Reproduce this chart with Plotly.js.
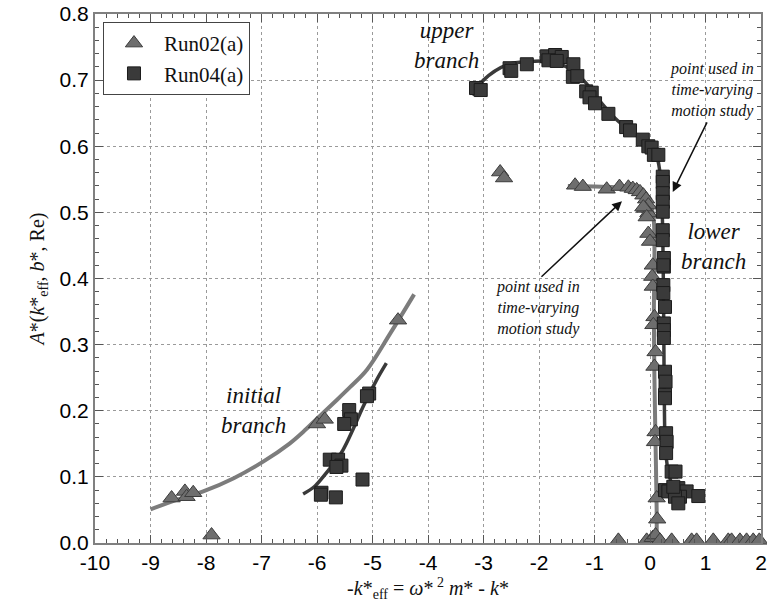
<!DOCTYPE html>
<html>
<head>
<meta charset="utf-8">
<script src="https://cdn.plot.ly/plotly-3.0.1.min.js"></script>
<style>html,body{margin:0;padding:0;background:#fff;}#chart{width:767px;height:615px;}</style>
</head>
<body>
<div id="chart"></div>
<script>
// ---- Run02(a) measured points (triangles) ----
var run02X = [-8.62,-8.38,-8.35,-8.23,-7.9,-6.0,-5.86,-4.54,-2.70,-2.63,
  -1.35,-1.21,-0.78,-0.55,-0.39,-0.31,-0.24,-0.18,-0.12,-0.07,-0.03,-0.09,-0.03,-0.12,-0.06,
  -0.03,0.0,0.05,0.04,0.05,0.08,0.06,0.10,0.08,0.10,0.09,0.12,0.13,
  -0.57,-0.06,0.05,0.10,0.18,0.39,0.75,0.84,1.14,1.41,1.47,1.62,1.74,1.86,1.97];
var run02Y = [0.068,0.078,0.070,0.076,0.012,0.180,0.187,0.337,0.561,0.552,
  0.541,0.539,0.535,0.539,0.538,0.536,0.534,0.531,0.526,0.520,0.511,0.506,0.499,0.508,0.493,
  0.468,0.456,0.420,0.403,0.388,0.342,0.330,0.289,0.267,0.168,0.153,0.068,0.036,
  0.004,0.004,0.008,0.012,0.004,0.004,0.004,0.004,0.004,0.004,0.004,0.004,0.004,0.004,0.004];

// ---- Run04(a) measured points (squares) ----
var run04X = [-5.06,-5.10,-5.42,-5.39,-5.51,-5.77,-5.62,-5.56,-5.65,-5.18,-5.92,-5.93,-5.66,
  -3.135,-3.05,-2.53,-2.50,-2.22,-1.86,-1.71,-1.59,-1.83,-1.68,-1.38,-1.39,-1.31,-1.15,-1.05,-1.09,-0.99,
  -0.75,-0.43,-0.36,-0.13,-0.03,0.03,0.07,0.15,
  0.23,0.23,0.23,0.23,0.23,0.23,0.23,0.25,0.25,0.24,0.24,0.24,0.27,0.25,0.25,0.25,0.27,0.28,0.27,0.27,
  0.29,0.30,0.29,0.39,0.46,0.27,0.33,0.51,0.66,0.54,0.45,0.51,0.87,0.42];
var run04Y = [0.226,0.222,0.201,0.187,0.180,0.126,0.126,0.117,0.115,0.096,0.076,0.073,0.069,
  0.688,0.685,0.718,0.714,0.724,0.736,0.738,0.735,0.730,0.729,0.724,0.705,0.706,0.683,0.681,0.674,0.665,
  0.649,0.629,0.624,0.610,0.600,0.598,0.587,0.587,
  0.554,0.546,0.529,0.516,0.501,0.473,0.458,0.431,0.418,0.420,0.390,0.378,0.357,0.332,0.322,0.310,0.259,0.244,0.224,0.219,
  0.166,0.153,0.136,0.108,0.108,0.080,0.078,0.083,0.078,0.070,0.070,0.060,0.071,0.085];

// ---- fitted branch curves ----
var run02InitX = [-9.0,-8.5,-8.05,-7.5,-6.97,-6.5,-6.25,-6.0,-5.71,-5.4,-5.1,-4.68,-4.25];
var run02InitY = [0.051,0.066,0.078,0.098,0.123,0.150,0.168,0.188,0.211,0.236,0.262,0.317,0.376];
var run02UpX = [-1.48,-1.0,-0.6,-0.35,-0.15,0.0,0.06,0.08,0.07,0.08,0.10,0.12,0.12];
var run02UpY = [0.540,0.539,0.538,0.535,0.527,0.512,0.495,0.450,0.350,0.250,0.150,0.050,0.000];
var run04InitX = [-6.25,-6.05,-5.89,-5.7,-5.53,-5.35,-5.17,-4.93,-4.75];
var run04InitY = [0.074,0.085,0.100,0.120,0.141,0.172,0.206,0.246,0.272];
var run04UpX = [-3.2,-3.0,-2.58,-2.2,-1.8,-1.5,-1.2,-0.9,-0.6,-0.3,-0.05,0.10,0.18,0.22,0.24,0.25,0.26,0.28,0.35,0.45];
var run04UpY = [0.677,0.700,0.723,0.728,0.728,0.720,0.700,0.668,0.640,0.620,0.604,0.590,0.560,0.500,0.400,0.300,0.200,0.140,0.100,0.080];

var xTicks = [-10,-9,-8,-7,-6,-5,-4,-3,-2,-1,0,1,2];
var yTicks = [0.0,0.1,0.2,0.3,0.4,0.5,0.6,0.7,0.8];

var lightLine = {color:'#7c7c7c', width:4, shape:'spline'};
var darkLine = {color:'#3a3a3a', width:3.5, shape:'spline'};

var traces = [
  {x:run02InitX, y:run02InitY, mode:'lines', line:lightLine, showlegend:false, hoverinfo:'skip'},
  {x:run02UpX, y:run02UpY, mode:'lines', line:lightLine, showlegend:false, hoverinfo:'skip'},
  {x:run04InitX, y:run04InitY, mode:'lines', line:darkLine, showlegend:false, hoverinfo:'skip'},
  {x:run04UpX, y:run04UpY, mode:'lines', line:darkLine, showlegend:false, hoverinfo:'skip'},
  {x:run02X, y:run02Y, mode:'markers', name:'Run02(a)', cliponaxis:false,
   marker:{symbol:'triangle-up', size:15, color:'#6e6e6e', line:{color:'#3c3c3c', width:1}}},
  {x:run04X, y:run04Y, mode:'markers', name:'Run04(a)', cliponaxis:false,
   marker:{symbol:'square', size:13, color:'#3a3a3a', line:{color:'#1c1c1c', width:1}}}
];

var serif = 'Liberation Serif, Times New Roman, serif';
var annFont = {family:serif, size:23, color:'#111'};
var smallFont = {family:serif, size:16, color:'#111'};
var tickFont = {family:'Liberation Sans, Arial, sans-serif', size:21, color:'#000'};

var layout = {
  width:767, height:615,
  margin:{l:95, r:6, t:14, b:72},
  paper_bgcolor:'#fff', plot_bgcolor:'#fff',
  showlegend:true,
  legend:{x:0.012, y:0.985, xanchor:'left', yanchor:'top', bgcolor:'#fff',
          bordercolor:'#444', borderwidth:1, font:{family:serif, size:21, color:'#111'},
          itemwidth:50, tracegroupgap:0},
  xaxis:{range:[-10,2], tickvals:xTicks, ticktext:xTicks.map(String),
         ticks:'inside', ticklen:8, tickcolor:'#555', mirror:'ticks',
         showline:true, linecolor:'#808080', linewidth:2,
         showgrid:true, gridcolor:'#9a9a9a', gridwidth:1, griddash:'dot',
         minor:{dtick:0.2, ticks:'inside', ticklen:4, tickcolor:'#555', showgrid:false},
         zeroline:false, tickfont:tickFont, ticklabeloverflow:'allow',
         title:{text:'-<i>k</i>*<sub>eff</sub> = <i>ω</i>*<sup> 2</sup> <i>m</i>* - <i>k</i>*',
                font:{family:serif, size:20, color:'#111'}, standoff:8}},
  yaxis:{range:[0,0.8], tickvals:yTicks, ticktext:yTicks.map(function(v){return v.toFixed(1);}),
         ticks:'inside', ticklen:8, tickcolor:'#555', mirror:'ticks',
         showline:true, linecolor:'#808080', linewidth:2,
         showgrid:true, gridcolor:'#9a9a9a', gridwidth:1, griddash:'dot',
         minor:{dtick:0.02, ticks:'inside', ticklen:4, tickcolor:'#555', showgrid:false},
         zeroline:false, tickfont:tickFont, ticklabeloverflow:'allow',
         title:{text:'<i>A</i>*(<i>k</i>*<sub>eff</sub>, <i>b</i>*, Re)',
                font:{family:serif, size:20, color:'#111'}, standoff:10}},
  annotations:[
    {x:-3.66, y:0.752, text:'<i>upper<br>branch</i>', showarrow:false, font:annFont, align:'center'},
    {x:1.15, y:0.449, text:'<i>lower<br>branch</i>', showarrow:false, font:annFont, align:'center'},
    {x:-7.14, y:0.201, text:'<i>initial<br>branch</i>', showarrow:false, font:annFont, align:'center'},
    {x:1.12, y:0.685, text:'<i>point used in<br>time-varying<br>motion study</i>', showarrow:false, font:smallFont, align:'center'},
    {x:-2.02, y:0.355, text:'<i>point used in<br>time-varying<br>motion study</i>', showarrow:false, font:smallFont, align:'center'},
    {x:0.41, y:0.531, ax:35, ay:-71, text:'', showarrow:true, arrowhead:2, arrowsize:1.3, arrowwidth:1.5, arrowcolor:'#111'},
    {x:-0.505, y:0.517, ax:-82, ay:77, text:'', showarrow:true, arrowhead:2, arrowsize:1.3, arrowwidth:1.5, arrowcolor:'#111'}
  ]
};

Plotly.newPlot('chart', traces, layout, {displayModeBar:false, staticPlot:true});
</script>
</body>
</html>
